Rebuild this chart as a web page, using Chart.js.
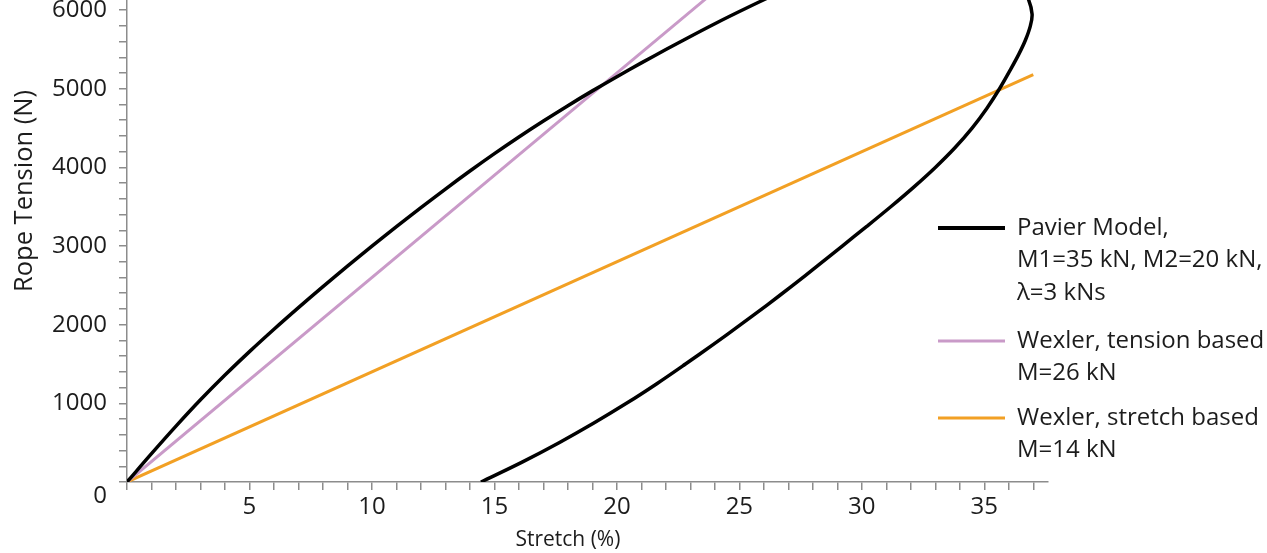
<!DOCTYPE html>
<html>
<head>
<meta charset="utf-8">
<title>Rope tension vs stretch</title>
<script src="https://cdn.jsdelivr.net/npm/chart.js@4.4.0/dist/chart.umd.min.js"></script>
<style>
    html, body { margin: 0; padding: 0; background: #fff; overflow: hidden; }
    #wrap { position: relative; width: 1267px; height: 553px; overflow: hidden; }
    /* the original figure is cropped at the top, so the canvas starts above the page */
    #chart { position: absolute; left: 0; top: -100px; }
</style>
</head>
<body>
<div id="wrap"><canvas id="chart" width="1267" height="653"></canvas></div>
<script>
// --- data ---
// Pavier model: loading branch, then (above the crop) the top of the loop, then unloading
const pavierStretch = [0, 1, 2, 3, 4, 5, 6, 7, 8, 9, 10, 11, 12, 13, 14, 15, 16, 17, 18, 19, 20,
    21, 22, 23, 24, 25, 26, 27, 28, 29, 30, 31, 32, 33, 34, 35, 35.9, 36.45, 36.8, 36.95,
    36.88, 36.68, 36.41, 36.08, 35.62, 35.1, 34.5, 33.8, 33.0, 32.12, 31.18, 30.2, 29.2, 28.2, 27.18,
    26.13, 25.05, 23.94, 22.8, 21.63, 20.39, 19.06, 17.64, 16.11, 14.45];
const pavierTension = [0, 360, 710, 1045, 1360, 1658, 1943, 2218, 2485, 2745, 2999, 3247, 3489,
    3725, 3954, 4175, 4387, 4590, 4785, 4973, 5154, 5329, 5499, 5665, 5827, 5982, 6132, 6275,
    6410, 6530, 6630, 6705, 6750, 6770, 6750, 6680, 6530, 6350, 6140, 5950,
    5800, 5620, 5440, 5250, 5000, 4750, 4500, 4250, 4000, 3750, 3500, 3250, 3000, 2750, 2500,
    2250, 2000, 1750, 1500, 1250, 1000, 750, 500, 250, 0];

// Wexler, tension based (M=26 kN)
const wexTensionStretch = [0, 28.5];
const wexTensionTension = [0, 7410];

// Wexler, stretch based (M=14 kN)
const wexStretchStretch = [0, 37];
const wexStretchTension = [0, 5180];

const legendLines = [
    ['Pavier Model,', 'M1=35 kN, M2=20 kN,', '\u03bb=3 kNs'],
    ['Wexler, tension based', 'M=26 kN'],
    ['Wexler, stretch based', 'M=14 kN']
];

const xTitle = 'Stretch (%)';
const yTitle = 'Rope Tension (N)';

// --- styles ---
const FONT = '"Open Sans", "Noto Sans", sans-serif';
const AXIS_GREY = '#8c8c8c';
const TEXT = '#1c1c1c';
const BLACK = '#000000';
const PINK = '#c99ac8';
const ORANGE = '#f2a024';
const TOP_CUT = 100; // px of canvas hidden above the page

function toPoints(xs, ys) {
    return xs.map((x, i) => ({ x: x, y: ys[i] }));
}

// legend on the right + x title, drawn on the canvas
const extrasPlugin = {
    id: 'extras',
    afterDraw(chart) {
        const ctx = chart.ctx;
        const colors = [BLACK, PINK, ORANGE];
        const widths = [4, 3, 3];
        const lineY = [228, 341, 418];
        ctx.save();
        ctx.font = '24px ' + FONT;
        ctx.fillStyle = TEXT;
        ctx.textBaseline = 'middle';
        legendLines.forEach((lines, i) => {
            const y0 = lineY[i] + TOP_CUT;
            ctx.strokeStyle = colors[i];
            ctx.lineWidth = widths[i];
            ctx.beginPath();
            ctx.moveTo(938, y0);
            ctx.lineTo(1005, y0);
            ctx.stroke();
            lines.forEach((t, j) => {
                ctx.fillText(t, 1017, y0 + j * 32.5);
            });
        });

        const xs = chart.scales.x;
        ctx.font = '21px ' + FONT;
        ctx.textAlign = 'center';
        ctx.fillText(xTitle, xs.getPixelForValue(18), 540 + TOP_CUT);
        ctx.restore();
    }
};

const ctx = document.getElementById('chart').getContext('2d');
new Chart(ctx, {
    type: 'scatter',
    data: {
        datasets: [
            {
                label: 'Pavier Model',
                data: toPoints(pavierStretch, pavierTension),
                showLine: true,
                borderColor: BLACK,
                borderWidth: 3.5,
                pointRadius: 0,
                tension: 0.35
            },
            {
                label: 'Wexler, tension based',
                data: toPoints(wexTensionStretch, wexTensionTension),
                showLine: true,
                borderColor: PINK,
                borderWidth: 3,
                pointRadius: 0
            },
            {
                label: 'Wexler, stretch based',
                data: toPoints(wexStretchStretch, wexStretchTension),
                showLine: true,
                borderColor: ORANGE,
                borderWidth: 3,
                pointRadius: 0
            }
        ]
    },
    options: {
        responsive: false,
        animation: false,
        events: [],
        layout: { padding: { left: 0, right: 219, top: 0, bottom: 0 } },
        plugins: {
            legend: { display: false },
            tooltip: { enabled: false }
        },
        scales: {
            x: {
                type: 'linear',
                min: 0,
                max: 37.6,
                afterFit: (s) => {
                    s.height = 71;
                    s.paddingLeft = 0;
                    s.paddingRight = 0;
                },
                border: { color: AXIS_GREY, width: 1.5 },
                grid: { drawOnChartArea: false, drawTicks: true, tickLength: 8, color: AXIS_GREY, lineWidth: 1.5 },
                ticks: {
                    stepSize: 1,
                    autoSkip: false,
                    maxRotation: 0,
                    includeBounds: false,
                    padding: 3,
                    color: TEXT,
                    font: { family: FONT, size: 24 },
                    callback: (v) => (v > 0 && v % 5 === 0) ? String(v) : ''
                }
            },
            y: {
                type: 'linear',
                min: 0,
                max: 7400,
                afterFit: (s) => {
                    s.width = 127;
                    s.paddingTop = 0;
                    s.paddingBottom = 0;
                },
                border: { color: AXIS_GREY, width: 1.5 },
                grid: { drawOnChartArea: false, drawTicks: true, tickLength: 8, color: AXIS_GREY, lineWidth: 1.5 },
                ticks: {
                    stepSize: 200,
                    autoSkip: false,
                    includeBounds: false,
                    padding: 12,
                    color: TEXT,
                    font: { family: FONT, size: 24 },
                    callback: (v) => v === 0 ? ['', '0'] : (v % 1000 === 0 ? String(v) : '')
                },
                title: {
                    display: true,
                    text: yTitle,
                    color: TEXT,
                    font: { family: FONT, size: 25.5 },
                    padding: { top: 9, bottom: 0 }
                }
            }
        }
    },
    plugins: [extrasPlugin]
});
</script>
</body>
</html>
